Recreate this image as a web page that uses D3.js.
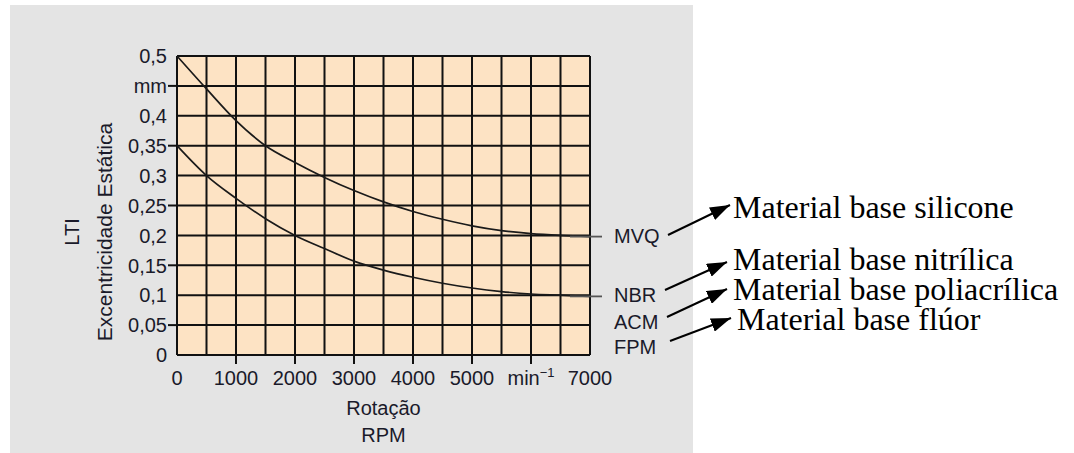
<!DOCTYPE html>
<html>
<head>
<meta charset="utf-8">
<script src="https://cdn.jsdelivr.net/npm/d3@7"></script>
<style>
  body { margin: 0; background: #fff; }
  svg text { font-family: "Liberation Sans", Arial, sans-serif; }
</style>
</head>
<body>
<svg id="chart" width="1074" height="453"></svg>
<script>
// data
var rpm = [0, 500, 1000, 1500, 2000, 2500, 3000, 3500, 4000, 4500, 5000, 5500, 6000, 6500, 7000];
var mvq = [0.5, 0.445, 0.392, 0.35, 0.322, 0.297, 0.275, 0.256, 0.24, 0.227, 0.216, 0.208, 0.203, 0.2, 0.198];
var nbr = [0.35, 0.30, 0.262, 0.228, 0.2, 0.178, 0.157, 0.142, 0.13, 0.12, 0.112, 0.106, 0.102, 0.1, 0.098];

var y_ticks = [0.5, 0.45, 0.4, 0.35, 0.3, 0.25, 0.2, 0.15, 0.1, 0.05, 0];
var y_labels = ["0,5", "mm", "0,4", "0,35", "0,3", "0,25", "0,2", "0,15", "0,1", "0,05", "0"];
var y_marked = [0.45, 0.35, 0.25, 0.15, 0.05];

var x_ticks = [0, 1000, 2000, 3000, 4000, 5000, 6000, 7000];
var x_labels = ["0", "1000", "2000", "3000", "4000", "5000", "min", "7000"];
var x_marked = [1000, 2000, 3000, 4000, 5000, 6000];

var codes = ["MVQ", "NBR", "ACM", "FPM"];
var materials = ["Material base silicone", "Material base nitrílica", "Material base poliacrílica", "Material base flúor"];

var margin = {left: 177, top: 56};
var width = 413, height = 299;

var svg = d3.select("#chart");

svg.append("rect")
    .attr("x", 10).attr("y", 5)
    .attr("width", 683).attr("height", 448)
    .attr("fill", "#e4e4e4");

var xs = d3.scaleLinear().domain([0, 7000]).range([0, width]);
var ys = d3.scaleLinear().domain([0, 0.5]).range([height, 0]);

var g = svg.append("g")
    .attr("transform", "translate(" + margin.left + "," + margin.top + ")");

g.append("rect")
    .attr("width", width).attr("height", height)
    .attr("fill", "#fde3c4");

// grid every 500 rpm / 0.05 mm
g.selectAll(".vgrid")
    .data(d3.range(0, 7001, 500))
    .enter().append("line")
        .attr("x1", d => xs(d)).attr("x2", d => xs(d))
        .attr("y1", 0).attr("y2", height)
        .attr("stroke", "#111").attr("stroke-width", 2);

g.selectAll(".hgrid")
    .data(y_ticks)
    .enter().append("line")
        .attr("x1", 0).attr("x2", width)
        .attr("y1", d => ys(d)).attr("y2", d => ys(d))
        .attr("stroke", "#111").attr("stroke-width", 2);

// outside tick marks
g.selectAll(".ytick")
    .data(y_marked)
    .enter().append("line")
        .attr("x1", -9).attr("x2", 0)
        .attr("y1", d => ys(d)).attr("y2", d => ys(d))
        .attr("stroke", "#111").attr("stroke-width", 2);

g.selectAll(".xtick")
    .data(x_marked)
    .enter().append("line")
        .attr("x1", d => xs(d)).attr("x2", d => xs(d))
        .attr("y1", height).attr("y2", height + 9)
        .attr("stroke", "#111").attr("stroke-width", 2);

g.selectAll(".ylab")
    .data(y_ticks)
    .enter().append("text")
        .attr("x", -10)
        .attr("y", d => ys(d))
        .attr("dy", "0.36em")
        .attr("text-anchor", "end")
        .style("font-size", "20px")
        .style("fill", "#1a1a2a")
        .text((d, i) => y_labels[i]);

var xlab = g.selectAll(".xlab")
    .data(x_ticks)
    .enter().append("text")
        .attr("x", d => xs(d))
        .attr("y", height + 30)
        .attr("text-anchor", "middle")
        .style("font-size", "20px")
        .style("fill", "#1a1a2a")
        .text((d, i) => x_labels[i]);
xlab.filter(d => d == 6000)
    .append("tspan")
        .attr("dy", -8)
        .style("font-size", "13px")
        .text("\u22121");

// curves
var line = d3.line()
    .x((d, i) => xs(rpm[i]))
    .y(d => ys(d))
    .curve(d3.curveMonotoneX);

[mvq, nbr].forEach(function(series) {
    g.append("path")
        .datum(series)
        .attr("fill", "none")
        .attr("stroke", "#1a1a1a")
        .attr("stroke-width", 1.7)
        .attr("d", line);
    g.append("line")
        .attr("x1", xs(7000) - 20).attr("x2", xs(7000) + 12)
        .attr("y1", ys(series[series.length - 1])).attr("y2", ys(series[series.length - 1]))
        .attr("stroke", "#555").attr("stroke-width", 1.8);
});

// material codes next to the curves
var code_y = [ys(0.2), ys(0.1), ys(0.1) + 27, ys(0.1) + 52];
g.selectAll(".code")
    .data(codes)
    .enter().append("text")
        .attr("x", xs(7000) + 24)
        .attr("y", (d, i) => code_y[i])
        .attr("dy", "0.36em")
        .style("font-size", "20px")
        .style("fill", "#1a1a2a")
        .text(d => d);

// axis titles
svg.append("text")
    .attr("transform", "translate(79,232) rotate(-90)")
    .attr("text-anchor", "middle")
    .style("font-size", "20px")
    .style("fill", "#1a1a2a")
    .text("LTI");
svg.append("text")
    .attr("transform", "translate(112,232) rotate(-90)")
    .attr("text-anchor", "middle")
    .style("font-size", "21px")
    .style("fill", "#1a1a2a")
    .text("Excentricidade Estática");

svg.append("text")
    .attr("x", margin.left + width / 2).attr("y", 415)
    .attr("text-anchor", "middle")
    .style("font-size", "20px")
    .style("fill", "#1a1a2a")
    .text("Rotação");
svg.append("text")
    .attr("x", margin.left + width / 2).attr("y", 442)
    .attr("text-anchor", "middle")
    .style("font-size", "20px")
    .style("fill", "#1a1a2a")
    .text("RPM");

// arrows to the material names
svg.append("defs").append("marker")
    .attr("id", "head")
    .attr("viewBox", "0 0 20 14")
    .attr("refX", 20).attr("refY", 7)
    .attr("markerUnits", "userSpaceOnUse")
    .attr("markerWidth", 20).attr("markerHeight", 14)
    .attr("orient", "auto")
    .append("path")
        .attr("d", "M0,0L20,7L0,14z")
        .attr("fill", "#000");

var arrow_from = [[668, 235], [665, 290], [667, 317], [670, 341]];
var arrow_to = [[730, 205], [727, 262], [727, 289], [731, 318]];
var name_x = [733, 733, 733, 737];
var name_y = [218, 270, 300, 330];

svg.selectAll(".arrow")
    .data(arrow_from)
    .enter().append("line")
        .attr("x1", d => d[0]).attr("y1", d => d[1])
        .attr("x2", (d, i) => arrow_to[i][0]).attr("y2", (d, i) => arrow_to[i][1])
        .attr("stroke", "#000").attr("stroke-width", 2)
        .attr("marker-end", "url(#head)");

svg.selectAll(".material")
    .data(materials)
    .enter().append("text")
        .attr("x", (d, i) => name_x[i])
        .attr("y", (d, i) => name_y[i])
        .style("font-family", "'Liberation Serif', 'Times New Roman', serif")
        .style("font-size", "32px")
        .style("fill", "#000")
        .text(d => d);
</script>
</body>
</html>
